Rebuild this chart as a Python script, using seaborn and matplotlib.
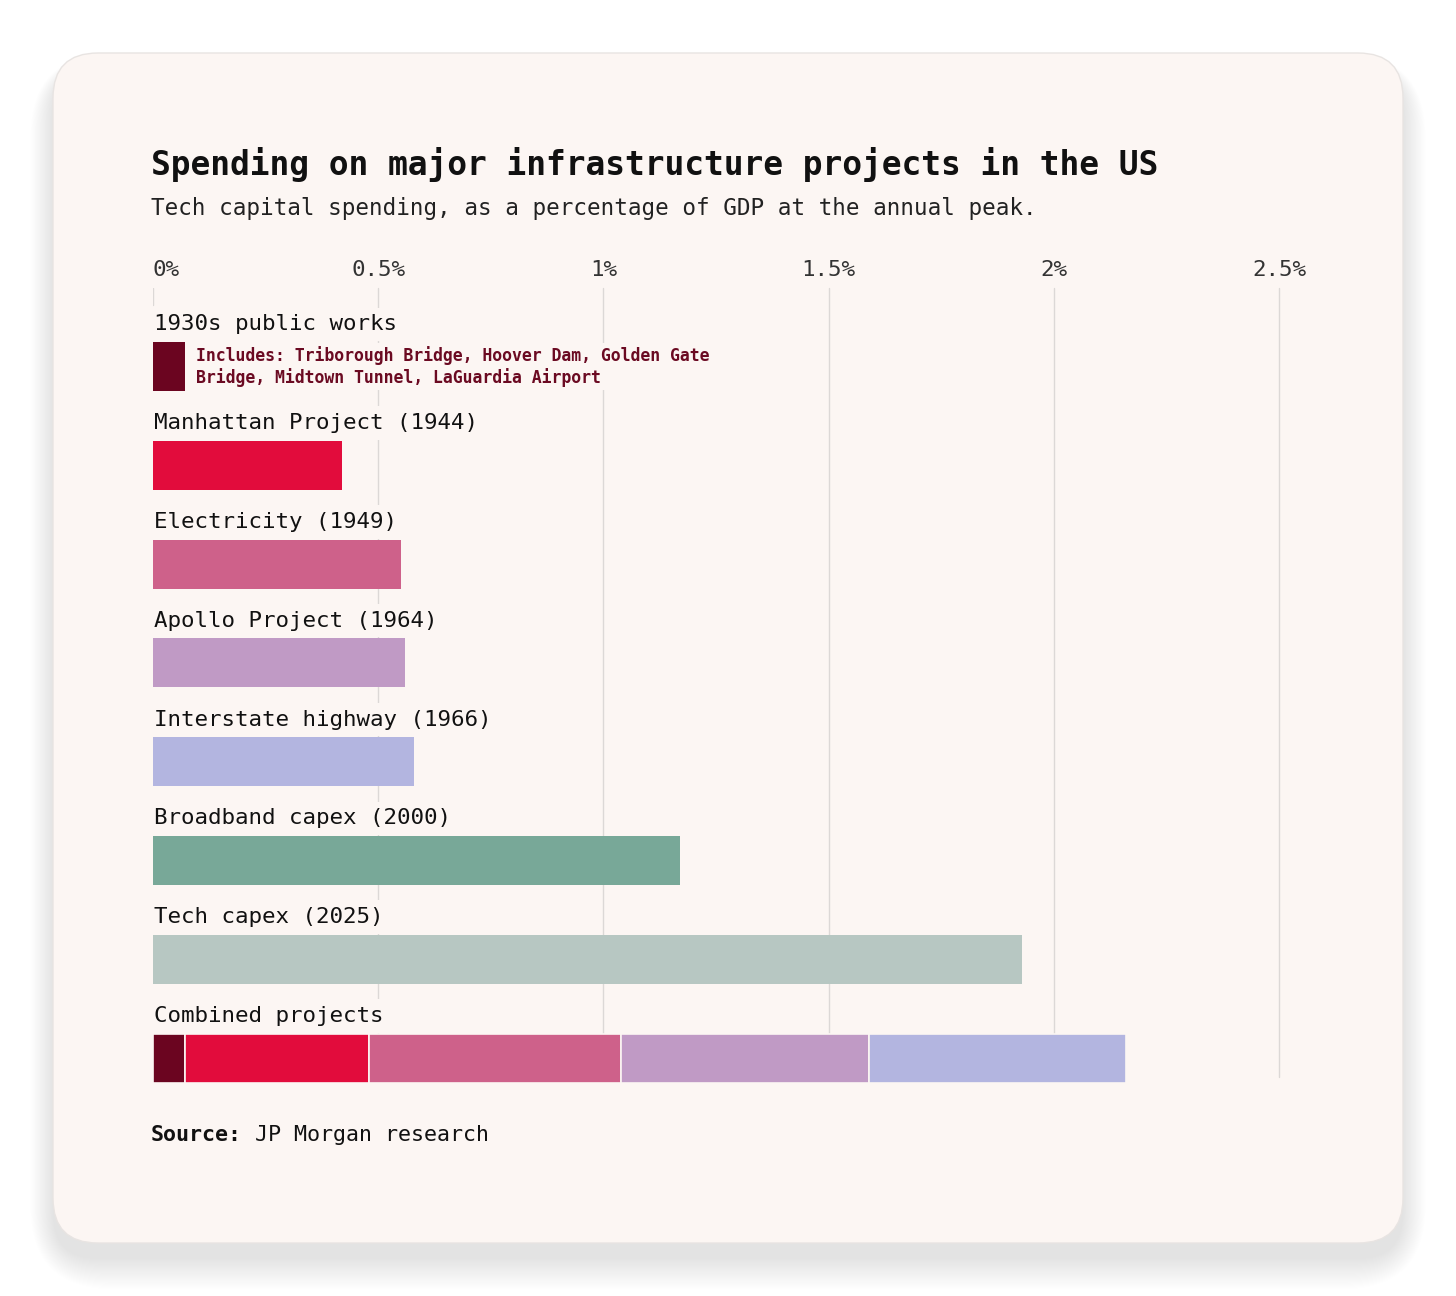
import numpy as np
import pandas as pd
import seaborn as sns
import matplotlib.pyplot as plt
from matplotlib.patches import FancyBboxPatch

# data
categories = ["1930s public works", "Manhattan Project (1944)", "Electricity (1949)",
              "Apollo Project (1964)", "Interstate highway (1966)",
              "Broadband capex (2000)", "Tech capex (2025)"]
peak_share = [0.07, 0.42, 0.55, 0.56, 0.58, 1.17, 1.93]
bar_colors = ["#6B0520", "#E20C3C", "#CE618A", "#C09AC5", "#B3B5E0", "#78A898", "#B7C7C2"]

combined_label = "Combined projects"
combined_parts = [0.07, 0.41, 0.56, 0.55, 0.57]

grid_ticks = [0, 0.5, 1, 1.5, 2, 2.5]
tick_labels = ["0%", "0.5%", "1%", "1.5%", "2%", "2.5%"]

title = "Spending on major infrastructure projects in the US"
subtitle = "Tech capital spending, as a percentage of GDP at the annual peak."
note = "Includes: Triborough Bridge, Hoover Dam, Golden Gate\nBridge, Midtown Tunnel, LaGuardia Airport"

CARD = "#FCF6F3"
INK = "#111111"

sns.set_theme(style="white")
plt.rcParams["font.family"] = ["DejaVu Sans Mono", "DejaVu Sans"]

W, H = 1456, 1296
fig = plt.figure(figsize=(W / 100, H / 100), dpi=100, facecolor="white")

# background card in pixel units
bg = fig.add_axes([0, 0, 1, 1], zorder=0)
bg.set_xlim(0, W)
bg.set_ylim(H, 0)
bg.axis("off")
cx, cy, cw, ch, r = 53, 53, 1350, 1190, 45
for k in range(28):
    g = k * 1.4
    bg.add_patch(FancyBboxPatch((cx - g * 0.6, cy - g * 0.4 + 16), cw + 1.2 * g, ch + 1.2 * g,
                                boxstyle=f"round,pad=0,rounding_size={r + g}",
                                fc="black", ec="none", alpha=0.0032))
bg.add_patch(FancyBboxPatch((cx, cy), cw, ch, boxstyle=f"round,pad=0,rounding_size={r}",
                            fc=CARD, ec="#E8E4E2", lw=1))

# main chart axes
top_px, bot_px = 288, 1080
ax = fig.add_axes([153 / W, 1 - bot_px / H, (1279 - 153) / W, (bot_px - top_px) / H], zorder=2)
ax.patch.set_alpha(0)

df = pd.DataFrame({"project": categories, "share": peak_share})
sns.barplot(data=df, x="share", y="project", hue="project", palette=bar_colors,
            legend=False, orient="h", width=0.495, saturation=1, linewidth=0, ax=ax)

n = len(categories)
lefts = np.concatenate([[0], np.cumsum(combined_parts)[:-1]])
ax.barh(n, combined_parts, left=lefts, height=0.495, color=bar_colors[:len(combined_parts)],
        edgecolor=CARD, linewidth=1.2, zorder=2, clip_on=False)

row_px = 98.8
ax.set_xlim(0, 2.5)
ax.set_ylim((bot_px - 366.5) / row_px, (top_px - 366.5) / row_px)
ax.set_yticks([])
ax.set_xlabel("")
ax.set_ylabel("")
for s in ax.spines.values():
    s.set_visible(False)

# grid lines behind everything
for t in grid_ticks[1:]:
    ax.axvline(t, ymin=0.004, color="#DCD8D6", lw=1, zorder=0, clip_on=False)
ax.axvline(0, ymin=1 - 17 / (bot_px - top_px), ymax=1, color="#DCD8D6", lw=1, zorder=0)

ax.set_xticks(grid_ticks)
ax.set_xticklabels(tick_labels)
ax.xaxis.tick_top()
ax.tick_params(axis="x", length=0, pad=6, labelsize=16.2, labelcolor="#333333")
ax.get_xticklabels()[0].set_ha("left")

# row labels above each bar
label_box = dict(boxstyle="square,pad=0.3", fc=CARD, ec="none")
for i, name in enumerate(categories + [combined_label]):
    ax.text(0.002, i - 0.366, name, fontsize=16.2, color=INK, va="baseline", ha="left",
            bbox=label_box, zorder=3)

ax.annotate(note, xy=(peak_share[0], 0), xytext=(8.6, 0), textcoords="offset points",
            va="center", ha="left", fontsize=11.9, color="#6B0A22", fontweight="bold",
            linespacing=1.15, bbox=dict(boxstyle="square,pad=0.2", fc=CARD, ec="none"), zorder=3)

fig.text(151 / W, 1 - 175 / H, title, fontsize=23.7, fontweight="bold", color=INK, va="baseline")
fig.text(151 / W, 1 - 215 / H, subtitle, fontsize=16.3, color="#222222", va="baseline")

src = fig.text(151 / W, 1 - 1141 / H, "Source:", fontsize=15.6, fontweight="bold",
               color=INK, va="baseline")
bg.annotate(" JP Morgan research", xy=(1, 0), xycoords=src, va="bottom", ha="left",
            fontsize=15.6, color=INK)

fig.savefig("out.png", dpi=100, facecolor="white")
